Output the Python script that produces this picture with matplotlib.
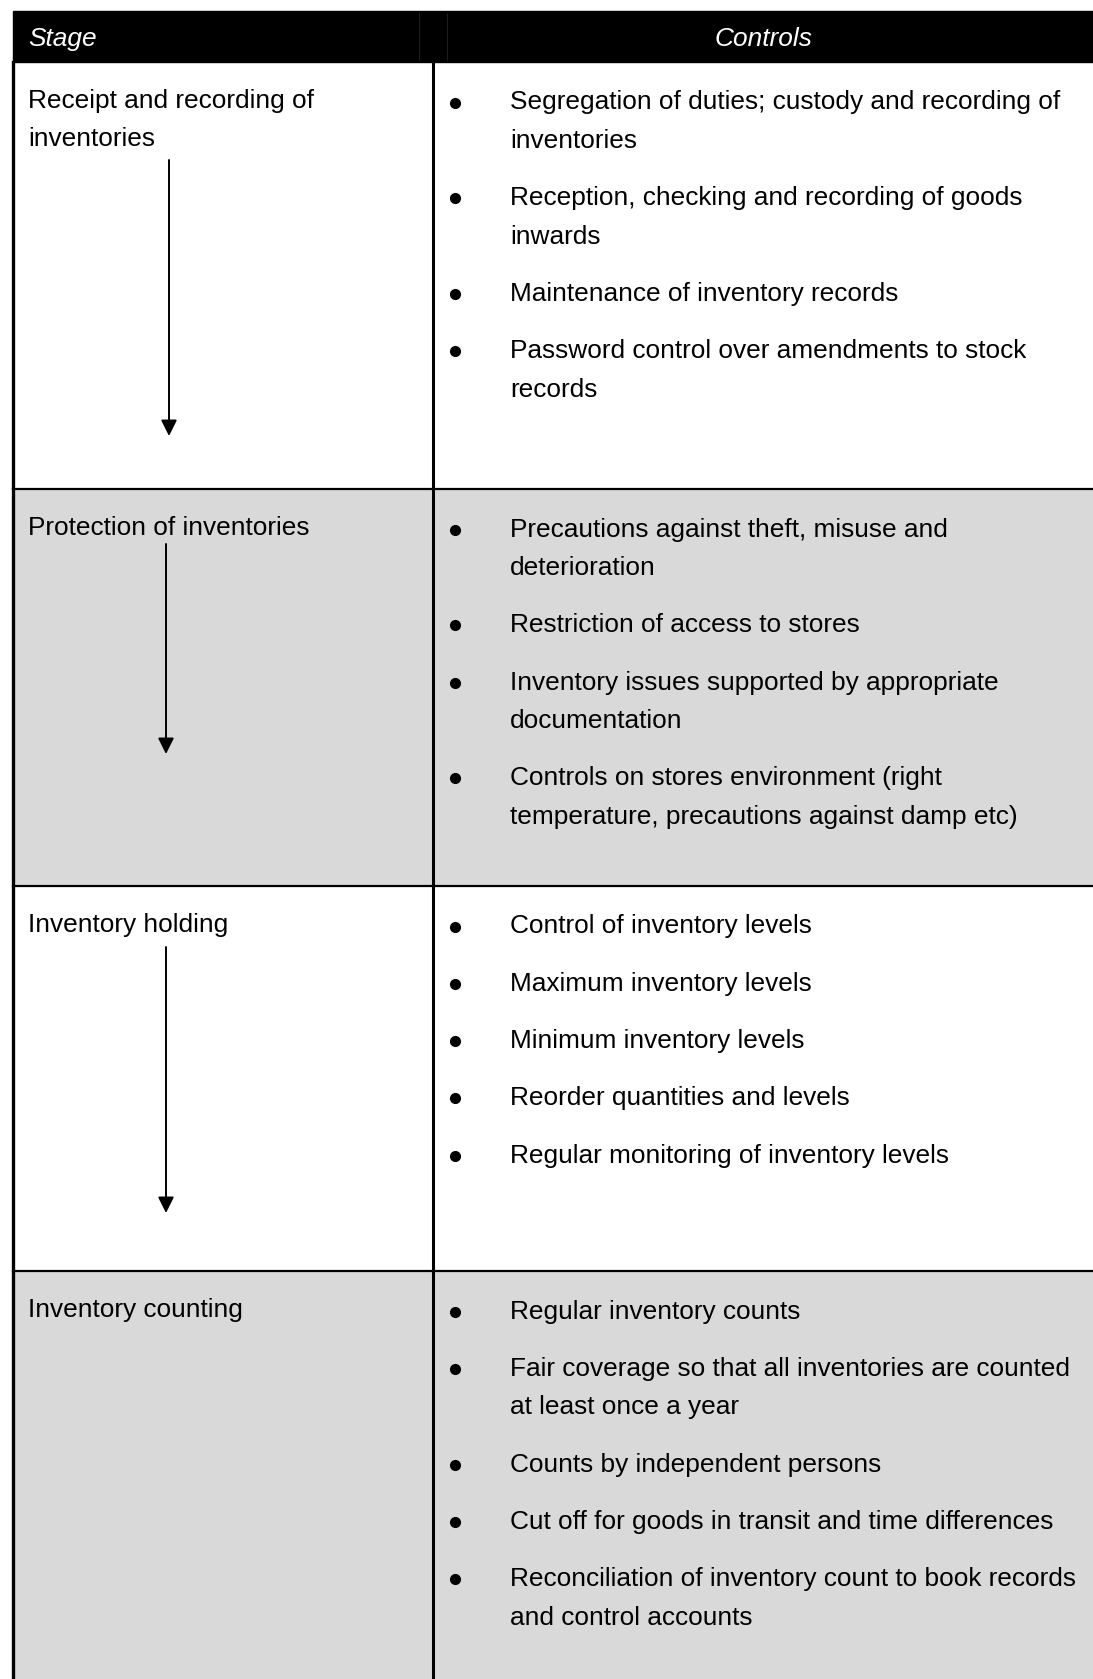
import matplotlib.pyplot as plt
from matplotlib.patches import Rectangle
from matplotlib import font_manager

# table content
header_stage = "Stage"
header_controls = "Controls"
stages = [
    "Receipt and recording of\ninventories",
    "Protection of inventories",
    "Inventory holding",
    "Inventory counting",
]
controls = [
    ["Segregation of duties; custody and recording of\ninventories",
     "Reception, checking and recording of goods\ninwards",
     "Maintenance of inventory records",
     "Password control over amendments to stock\nrecords"],
    ["Precautions against theft, misuse and\ndeterioration",
     "Restriction of access to stores",
     "Inventory issues supported by appropriate\ndocumentation",
     "Controls on stores environment (right\ntemperature, precautions against damp etc)"],
    ["Control of inventory levels",
     "Maximum inventory levels",
     "Minimum inventory levels",
     "Reorder quantities and levels",
     "Regular monitoring of inventory levels"],
    ["Regular inventory counts",
     "Fair coverage so that all inventories are counted\nat least once a year",
     "Counts by independent persons",
     "Cut off for goods in transit and time differences",
     "Reconciliation of inventory count to book records\nand control accounts"],
]
row_fill = ["white", "#d9d9d9", "white", "#d9d9d9"]

# layout (pixels)
W, H = 1093, 1679
left, divider = 13, 433
head_top, head_bot = 10.7, 62
row_edges = [62, 489, 886, 1271, H]
arrows = [(169, 160, 436), (166, 544, 754), (166, 947, 1213)]
line_h = 38.5
item_gap = 57.3

names = {f.name for f in font_manager.fontManager.ttflist}
fam = ["Liberation Sans Narrow"] if "Liberation Sans Narrow" in names else ["Liberation Sans"]
plt.rcParams["font.family"] = fam + ["DejaVu Sans"]
fs = 18.9

fig = plt.figure(figsize=(W / 100, H / 100), dpi=100)
ax = fig.add_axes([0, 0, 1, 1])
ax.set_xlim(0, W)
ax.set_ylim(H, 0)
ax.axis("off")

# header
ax.add_patch(Rectangle((left, head_top), W - left, head_bot - head_top, color="black", zorder=1))
for x in (419, 447):
    ax.plot([x, x], [head_top + 2, head_bot - 2], color="#2a2a2a", lw=0.5, zorder=2)
hy = (head_top + head_bot) / 2 + 3
ax.text(28, hy, header_stage, color="white", style="italic",
        fontsize=fs, va="center", ha="left", zorder=3)
ax.text((divider + W) / 2, hy, header_controls, color="white",
        style="italic", fontsize=fs, va="center", ha="center", zorder=3)

for i, (stage, items) in enumerate(zip(stages, controls)):
    top, bot = row_edges[i], row_edges[i + 1]
    ax.add_patch(Rectangle((left, top), W - left, bot - top, color=row_fill[i], zorder=0))
    if i > 0:
        ax.plot([left, W], [top, top], color="black", lw=1.6, zorder=2)
    y0 = top + 40.5
    for k, ln in enumerate(stage.split("\n")):
        ax.text(28, y0 + k * line_h - 1.5, ln, fontsize=fs, va="center", ha="left", zorder=3)
    y = y0
    for item in items:
        ax.plot(455, y, "o", color="black", ms=7, zorder=3)
        lines = item.split("\n")
        for k, ln in enumerate(lines):
            ax.text(510, y + k * line_h, ln, fontsize=fs, va="center", ha="left", zorder=3)
        y += (len(lines) - 1) * line_h + item_gap

for x, ya, yb in arrows:
    ax.annotate("", xy=(x, yb), xytext=(x, ya),
                arrowprops=dict(arrowstyle="-|>,head_length=0.6,head_width=0.3",
                                color="black", lw=1.4,
                                mutation_scale=16, shrinkA=0, shrinkB=0), zorder=3)

# borders
ax.plot([left, left], [head_bot, H], color="black", lw=2.4, zorder=4)
ax.plot([divider, divider], [head_bot, H], color="black", lw=2.2, zorder=4)

fig.savefig("out.png", dpi=100)
